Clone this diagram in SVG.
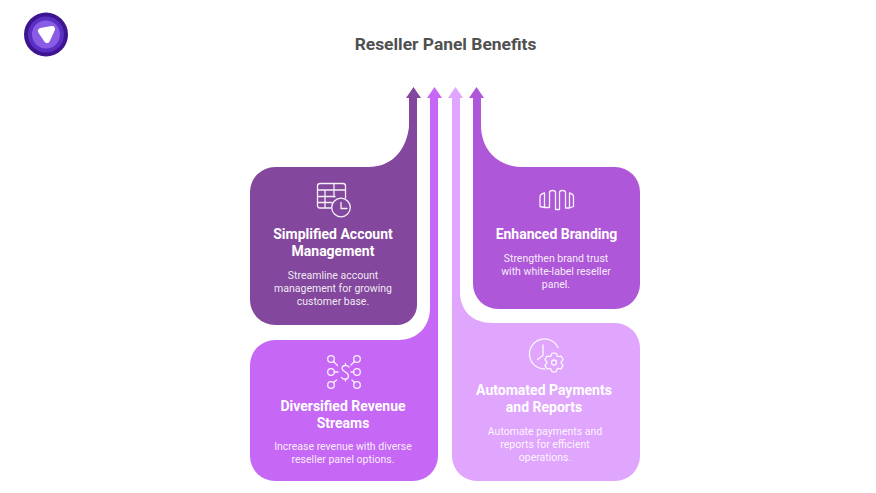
<svg xmlns="http://www.w3.org/2000/svg" width="876" height="493" viewBox="0 0 876 493">
<style>
text{font-family:Roboto,"Liberation Sans",sans-serif;text-anchor:middle}
.h{font-size:14px;font-weight:700;fill:#fff}
.d{font-size:10.500px;fill:#fff;fill-opacity:.9}
.i{fill:none;stroke:#fff;stroke-width:1.300;stroke-linecap:round;stroke-linejoin:round;stroke-opacity:.92}
</style>
<rect width="876" height="493" fill="#fff"/>
<g id="logo">
<circle cx="46" cy="34.500" r="22" fill="#3f1490"/>
<circle cx="46" cy="34.500" r="18" fill="#5a2fc2"/>
<circle cx="46" cy="34.500" r="14" fill="#8a5ce6"/>
<path d="M41 31L52 29L47 40Z" fill="#fff" stroke="#fff" stroke-width="6" stroke-linejoin="round"/>
</g>
<text id="title" x="445.500" y="50" font-weight="700" fill="#505050" style="font-size:17.400px">Reseller Panel Benefits</text>
<g id="connectors">
<path id="arrow-dark" fill="#83479d" d="M413.500 87L421 98H417V150H409V98H406Z"/>
<path id="arrow-violet" fill="#c667f5" d="M434.500 87L442 98H438V340H430V98H427Z"/>
<path id="arrow-light" fill="#e0a5fd" d="M455.500 87L463 98H460V323H452V98H448Z"/>
<path id="arrow-purple" fill="#ae57d8" d="M476.500 87L484 98H481V167H473V98H469Z"/>
</g>
<g id="node-account">
<path fill="#83479d" d="M275 167H368C395 167 409.500 146 409.500 118V98H417V305A20 20 0 0 1 397 325H275A25 25 0 0 1 250 300V192A25 25 0 0 1 275 167Z"/>
<g class="i"><path d="M331 208H320Q317.500 208 317.500 205.500V186Q317.500 183.500 320 183.500H343Q345.500 183.500 345.500 186V198M317.500 190H345.500M317.500 196.500H335M317.500 202.500H332M325 190V208M334 183.500V197"/><circle cx="341" cy="207.500" r="9.300"/><path d="M341 202.500V208.500H347"/></g>
<text class="h" x="333" y="239">Simplified Account</text>
<text class="h" x="333" y="256">Management</text>
<text class="d" x="333" y="279">Streamline account</text>
<text class="d" x="333" y="292">management for growing</text>
<text class="d" x="333" y="305">customer base.</text>
</g>
<g id="node-revenue">
<path fill="#c667f5" d="M275 340H398C417 340 430 327 430 308V98H438V456A25 25 0 0 1 413 481H275A25 25 0 0 1 250 456V365A25 25 0 0 1 275 340Z"/>
<g class="i"><circle cx="331" cy="359" r="3.300"/><path d="M333.500 361.500L337.500 365.500"/><circle cx="357" cy="359" r="3.300"/><path d="M354.500 361.500L351 365"/><circle cx="331" cy="372" r="3.300"/><path d="M334.500 372H338"/><circle cx="357" cy="372" r="3.300"/><path d="M353.500 372H351"/><circle cx="331" cy="385" r="3.300"/><path d="M333.500 382.500L336.500 380"/><circle cx="357" cy="385" r="3.300"/><path d="M354.500 382.500L352 380"/><path d="M349 367C347 364.500 342 365 342 368.500C342 372 348.500 371.500 348.500 376C348.500 380 343 380 341.500 377.500M345.500 363.500V365.500M345.500 379V381"/></g>
<text class="h" x="343" y="411">Diversified Revenue</text>
<text class="h" x="343" y="428">Streams</text>
<text class="d" x="343" y="450">Increase revenue with diverse</text>
<text class="d" x="343" y="463">reseller panel options.</text>
</g>
<g id="node-payments">
<path fill="#e0a5fd" d="M452 98H460V292C460 311 473 323 492 323H615A25 25 0 0 1 640 348V456A25 25 0 0 1 615 481H477A25 25 0 0 1 452 456Z"/>
<g class="i"><path d="M558 347.500A15 15 0 1 0 544.500 369"/><path d="M543 345V355.500L537.500 359.500"/><path transform="translate(554 362.500)" d="M-3.300 -6.200L-2 -9.300H2L3.300 -6.200L3.700 -5.900L7.100 -6.400L9 -2.900L7 -.2V.2L9 2.900L7.100 6.400L3.700 5.900L3.300 6.200L2 9.300H-2L-3.300 6.200L-3.700 5.900L-7.100 6.400L-9 2.900L-7 .2V-.2L-9 -2.900L-7.100 -6.400L-3.700 -5.900Z"/><circle cx="554" cy="362.500" r="2.500"/></g>
<text class="h" x="544" y="394.500">Automated Payments</text>
<text class="h" x="544" y="411.500">and Reports</text>
<text class="d" x="545" y="435">Automate payments and</text>
<text class="d" x="545" y="448">reports for efficient</text>
<text class="d" x="545" y="461">operations.</text>
</g>
<g id="node-branding">
<path fill="#ae57d8" d="M473 98H481V125C481 150 498 167 523 167H615A25 25 0 0 1 640 192V284A25 25 0 0 1 615 309H498A25 25 0 0 1 473 284Z"/>
<g class="i"><path d="M544.500 207.500L540 206.500V197Q540 194 544.500 193V207.500H549.500V192.500Q549.500 190.500 552.500 190.500Q555.500 190.500 555.500 192.500V209.500H559.500V192.500Q559.500 190.500 562.500 190.500Q565.500 190.500 565.500 192.500V208H569.500V193Q573.500 194 573.500 197V206.500L569.500 208"/></g>
<text class="h" x="556.500" y="239">Enhanced Branding</text>
<text class="d" x="556" y="262">Strengthen brand trust</text>
<text class="d" x="556" y="275">with white-label reseller</text>
<text class="d" x="556" y="288">panel.</text>
</g>
</svg>
